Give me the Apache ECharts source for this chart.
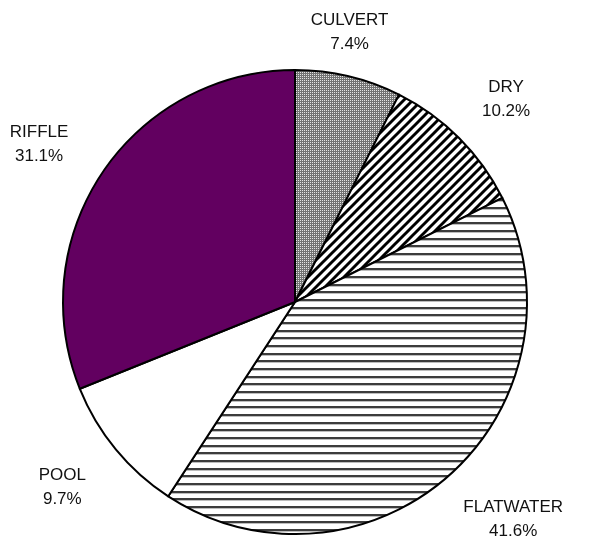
<!DOCTYPE html>
<html>
<head>
<meta charset="utf-8">
<script src="https://cdn.jsdelivr.net/npm/echarts@6/dist/echarts.min.js"></script>
<style>
html,body{margin:0;padding:0;background:#fff;}
#chart{width:598px;height:547px;}
</style>
</head>
<body>
<div id="chart"></div>
<script>
// ---- data ----
const categories = ['CULVERT', 'DRY', 'FLATWATER', 'POOL', 'RIFFLE'];
const percentValues = [7.4, 10.2, 41.6, 9.7, 31.1];

// ---- fill patterns ----
function makeCanvas(w, h) {
  const c = document.createElement('canvas');
  c.width = w; c.height = h;
  return c;
}
function ditherPattern() {
  const c = makeCanvas(2, 2), ctx = c.getContext('2d');
  ctx.fillStyle = '#727272'; ctx.fillRect(0, 0, 2, 2);
  ctx.fillStyle = '#e4e4e4'; ctx.fillRect(0, 0, 1, 1);
  return c;
}
function diagonalPattern() {
  const s = 9;
  const c = makeCanvas(s, s), ctx = c.getContext('2d');
  ctx.fillStyle = '#ffffff'; ctx.fillRect(0, 0, s, s);
  ctx.strokeStyle = '#000000'; ctx.lineWidth = 2.9;
  ctx.beginPath();
  [-s, 0, s].forEach(function (off) {
    ctx.moveTo(-2, s + 2 + off);
    ctx.lineTo(s + 2, -2 + off);
  });
  ctx.stroke();
  return c;
}
function horizontalPattern() {
  const h = 23;
  const c = makeCanvas(4, h), ctx = c.getContext('2d');
  ctx.fillStyle = '#ffffff'; ctx.fillRect(0, 0, 4, h);
  [0, 8, 15].forEach(function (r) {
    ctx.fillStyle = '#3c3c3c'; ctx.fillRect(0, r, 4, 2);
    ctx.fillStyle = '#bdbdbd'; ctx.fillRect(0, r + 2, 4, 1);
  });
  return c;
}
const fills = [
  { image: ditherPattern(), repeat: 'repeat' },
  { image: diagonalPattern(), repeat: 'repeat' },
  { image: horizontalPattern(), repeat: 'repeat' },
  '#ffffff',
  '#620060'
];

// ---- layout constants ----
const CX = 295, CY = 302, R = 232;
const FONT_SIZE = 17, LINE_H = 24;

const total = percentValues.reduce(function (a, b) { return a + b; }, 0);
function midAngle(i) {
  let before = 0;
  for (let k = 0; k < i; k++) before += percentValues[k];
  return (before + percentValues[i] / 2) / total * Math.PI * 2; // clockwise from 12 o'clock
}
function clamp1(v) { return Math.max(-1, Math.min(1, v)); }

const seriesData = categories.map(function (name, i) {
  return { name: name, value: percentValues[i], itemStyle: { color: fills[i] } };
});

const chart = echarts.init(document.getElementById('chart'), null, { renderer: 'canvas' });
chart.setOption({
  animation: false,
  backgroundColor: '#ffffff',
  series: [{
    type: 'pie',
    center: [CX, CY],
    radius: R,
    startAngle: 90,
    clockwise: true,
    silent: true,
    data: seriesData,
    itemStyle: { borderColor: '#000000', borderWidth: 2 },
    label: {
      show: true,
      position: 'outside',
      overflow: 'none',
      color: '#111111',
      fontFamily: 'Liberation Sans, Arial, sans-serif',
      fontSize: FONT_SIZE,
      lineHeight: LINE_H,
      align: 'center',
      formatter: function (p) { return p.name + '\n' + p.value.toFixed(1) + '%'; }
    },
    labelLine: { show: false, length: 5, length2: 0 },
    labelLayout: function (params) {
      const a = midAngle(params.dataIndex);
      const sx = Math.sin(a), cy = -Math.cos(a);
      const w = params.labelRect.width;
      const h = params.labelRect.height;
      const px = CX + R * sx, py = CY + R * cy;   // point on the rim
      const ax = Math.abs(sx);
      const fx = Math.sign(sx) * clamp1(2 * (ax - 0.25));
      const fy = clamp1(2.2 * cy * Math.abs(cy));
      const gy = cy > 0 ? 27 : 20;
      return {
        x: px + 50 * sx * ax + fx * w / 2,
        y: py + gy * cy + fy * h / 2,
        align: 'center',
        verticalAlign: 'middle'
      };
    }
  }]
});
</script>
</body>
</html>
